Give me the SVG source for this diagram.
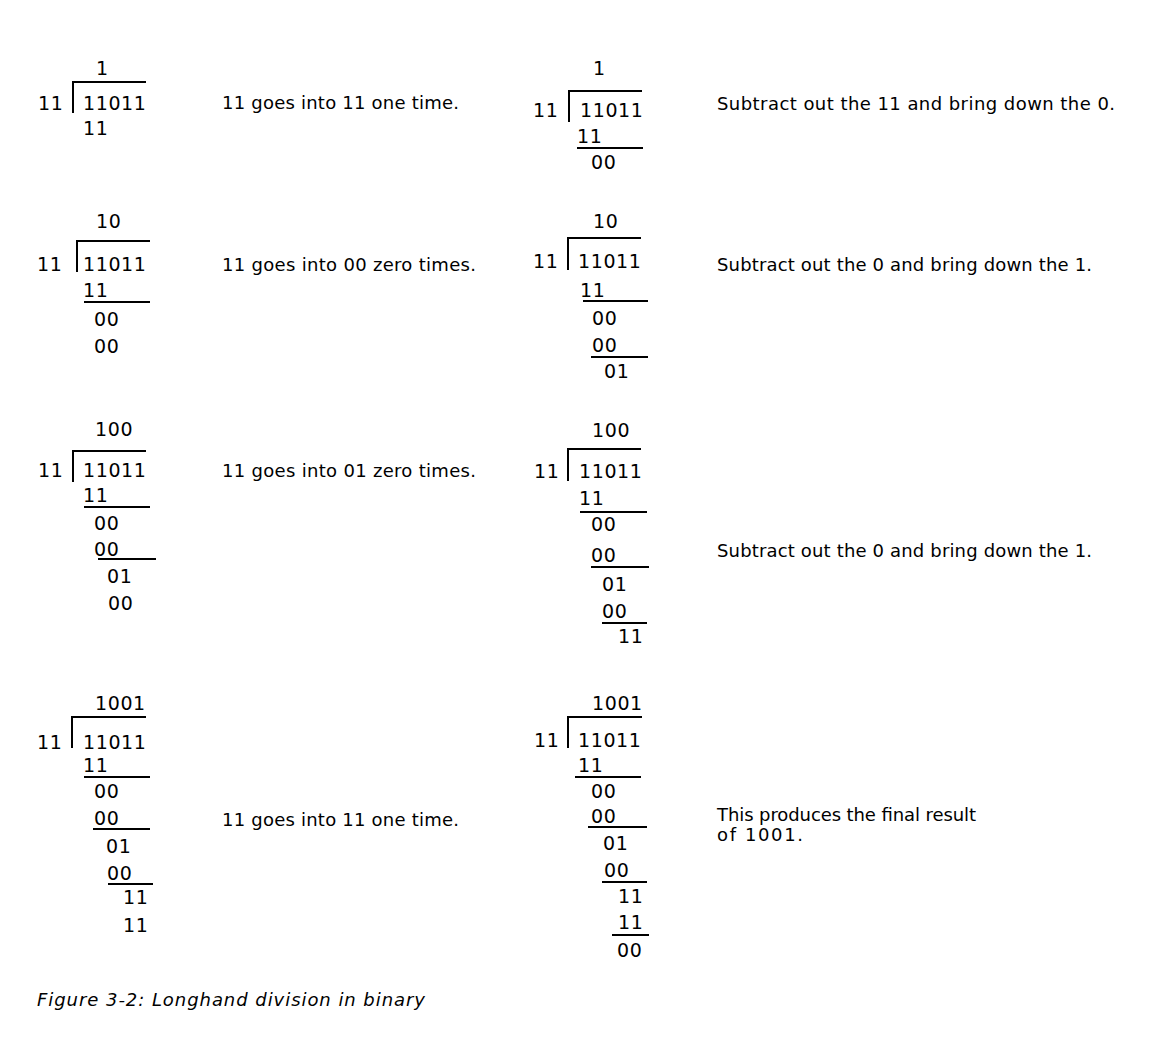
<svg xmlns="http://www.w3.org/2000/svg" width="1150" height="1054" viewBox="0 0 1150 1054">
<style>
text{font-family:"DejaVu Sans","Liberation Sans",sans-serif;font-size:18px;fill:#000}
.d{font-size:19px;letter-spacing:0.6px}
.cap{font-style:italic}
path,line{stroke:#000;stroke-width:2;fill:none}
</style>
<rect width="1150" height="1054" fill="#fff"/>
<g id="block1">
<text class="d" x="96" y="75">1</text>
<text class="d" x="38" y="110">11</text>
<path d="M73,113 V82 H146"/>
<text class="d" x="83" y="110">11011</text>
<text class="d" x="83" y="135">11</text>
</g>
<g id="block2">
<text class="d" x="593" y="75">1</text>
<text class="d" x="533" y="117">11</text>
<path d="M569,122 V91 H642"/>
<text class="d" x="580" y="117">11011</text>
<text class="d" x="577" y="143">11</text>
<line x1="577" y1="148" x2="643" y2="148"/>
<text class="d" x="591" y="169">00</text>
</g>
<g id="block3">
<text class="d" x="96" y="228">10</text>
<text class="d" x="37" y="271">11</text>
<path d="M77,272 V241 H150"/>
<text class="d" x="83" y="271">11011</text>
<text class="d" x="83" y="297">11</text>
<line x1="84" y1="302" x2="150" y2="302"/>
<text class="d" x="94" y="326">00</text>
<text class="d" x="94" y="353">00</text>
</g>
<g id="block4">
<text class="d" x="593" y="228">10</text>
<text class="d" x="533" y="268">11</text>
<path d="M568,270 V238 H641"/>
<text class="d" x="578" y="268">11011</text>
<text class="d" x="580" y="297">11</text>
<line x1="583" y1="301" x2="648" y2="301"/>
<text class="d" x="592" y="325">00</text>
<text class="d" x="592" y="352">00</text>
<line x1="591" y1="357" x2="648" y2="357"/>
<text class="d" x="604" y="378">01</text>
</g>
<g id="block5">
<text class="d" x="95" y="436">100</text>
<text class="d" x="38" y="477">11</text>
<path d="M73,482 V451 H146"/>
<text class="d" x="83" y="477">11011</text>
<text class="d" x="83" y="502">11</text>
<line x1="84" y1="507" x2="150" y2="507"/>
<text class="d" x="94" y="530">00</text>
<text class="d" x="94" y="556">00</text>
<line x1="98" y1="559" x2="156" y2="559"/>
<text class="d" x="107" y="583">01</text>
<text class="d" x="108" y="610">00</text>
</g>
<g id="block6">
<text class="d" x="592" y="437">100</text>
<text class="d" x="534" y="478">11</text>
<path d="M568,481 V449 H641"/>
<text class="d" x="579" y="478">11011</text>
<text class="d" x="579" y="505">11</text>
<line x1="580" y1="512" x2="647" y2="512"/>
<text class="d" x="591" y="531">00</text>
<text class="d" x="591" y="562">00</text>
<line x1="591" y1="567" x2="649" y2="567"/>
<text class="d" x="602" y="591">01</text>
<text class="d" x="602" y="618">00</text>
<line x1="602" y1="623" x2="647" y2="623"/>
<text class="d" x="618" y="643">11</text>
</g>
<g id="block7">
<text class="d" x="95" y="710">1001</text>
<text class="d" x="37" y="749">11</text>
<path d="M72,748 V717 H146"/>
<text class="d" x="83" y="749">11011</text>
<text class="d" x="83" y="772">11</text>
<line x1="84" y1="777" x2="150" y2="777"/>
<text class="d" x="94" y="798">00</text>
<text class="d" x="94" y="825">00</text>
<line x1="93" y1="829" x2="150" y2="829"/>
<text class="d" x="106" y="853">01</text>
<text class="d" x="107" y="880">00</text>
<line x1="108" y1="884" x2="153" y2="884"/>
<text class="d" x="123" y="904">11</text>
<text class="d" x="123" y="932">11</text>
</g>
<g id="block8">
<text class="d" x="592" y="710">1001</text>
<text class="d" x="534" y="747">11</text>
<path d="M568,748 V717 H642"/>
<text class="d" x="578" y="747">11011</text>
<text class="d" x="578" y="772">11</text>
<line x1="575" y1="777" x2="641" y2="777"/>
<text class="d" x="591" y="798">00</text>
<text class="d" x="591" y="823">00</text>
<line x1="588" y1="827" x2="647" y2="827"/>
<text class="d" x="603" y="850">01</text>
<text class="d" x="604" y="877">00</text>
<line x1="602" y1="882" x2="647" y2="882"/>
<text class="d" x="618" y="903">11</text>
<text class="d" x="618" y="929">11</text>
<line x1="612" y1="935" x2="649" y2="935"/>
<text class="d" x="617" y="957">00</text>
</g>
<g id="notes">
<text x="222" y="109" textLength="237" lengthAdjust="spacing">11 goes into 11 one time.</text>
<text x="717" y="110" textLength="398" lengthAdjust="spacing">Subtract out the 11 and bring down the 0.</text>
<text x="222" y="271" textLength="254" lengthAdjust="spacing">11 goes into 00 zero times.</text>
<text x="717" y="271" textLength="375" lengthAdjust="spacing">Subtract out the 0 and bring down the 1.</text>
<text x="222" y="477" textLength="254" lengthAdjust="spacing">11 goes into 01 zero times.</text>
<text x="717" y="557" textLength="375" lengthAdjust="spacing">Subtract out the 0 and bring down the 1.</text>
<text x="222" y="826" textLength="237" lengthAdjust="spacing">11 goes into 11 one time.</text>
<text x="717" y="821" textLength="259" lengthAdjust="spacing">This produces the final result</text>
<text x="717" y="841" textLength="86" lengthAdjust="spacing">of 1001.</text>
</g>
<text id="caption" class="cap" x="37" y="1006" textLength="388" lengthAdjust="spacing">Figure 3-2: Longhand division in binary</text>
</svg>
